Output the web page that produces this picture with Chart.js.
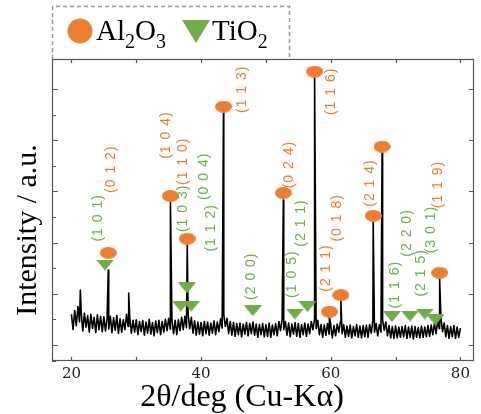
<!DOCTYPE html>
<html><head><meta charset="utf-8">
<script src="https://cdn.jsdelivr.net/npm/chart.js@4.4.1/dist/chart.umd.min.js"></script>
<style>html,body{margin:0;padding:0;background:#fff;}#wrap{width:481px;height:414px;}</style>
</head><body><div id="wrap"><canvas id="c" width="481" height="414"></canvas></div>
<script>
// ---- DATA ----
// baseline (noise) intensity, sampled every 0.25 deg from 20 to 80 deg
const scanStart = 20, scanStep = 0.25;
const intensity = [
 120,60,135,75,150,90,130,55,125,70,115,50,120,65,108,48,118,60,112,52,
 110,55,104,62,112,48,106,58,115,45,102,50,98,60,120,72,104,46,96,50,
 98,40,92,52,96,38,90,46,100,42,88,36,94,48,96,40,92,50,100,56,
 104,62,100,44,96,40,98,56,108,60,112,68,120,64,108,46,94,38,90,42,
 88,36,92,44,90,38,86,46,94,40,90,52,102,66,118,72,104,44,92,38,
 88,34,84,40,86,32,82,42,88,36,84,44,90,38,82,30,80,40,84,32,
 80,34,86,30,78,40,84,36,92,56,100,60,92,38,86,32,82,42,88,34,
 84,30,80,40,86,34,82,44,92,60,100,64,96,40,80,30,78,38,84,42,
 80,28,76,36,82,50,92,44,80,30,74,34,78,28,72,36,80,30,74,28,
 76,32,78,30,80,46,94,50,84,36,80,50,98,58,90,36,76,28,72,26,
 74,28,70,30,72,32,76,26,70,30,74,24,72,30,68,28,74,30,70,32,
 76,34,78,40,84,44,94,64,106,52,86,32,76,26,72,32,76,26,70,30,
 66
];
// sharp diffraction peaks: position (deg) and top intensity
const peakTheta     = [21.37, 25.68, 28.83, 35.27, 37.86, 43.45, 52.69, 57.51, 59.79, 61.57, 66.55, 67.92, 76.80];
const peakIntensity = [215,   293,   203,   559,   390,   906,   566,   1043,  110,   172,   480,   750,   258];
// Al2O3 markers (circles)
const al2o3Theta  = [25.68, 35.27, 37.86, 43.45, 52.69, 57.51, 59.79, 61.57, 66.55, 67.92, 76.80];
const al2o3Marker = [360,   582,   415,   931,   594,   1068,  130,   195,   505,   775,   282];
// TiO2 markers (down triangles)
const tio2Theta  = [25.18, 36.86, 37.82, 38.49, 47.97, 54.46, 56.40, 69.44, 72.23, 74.50, 76.14];
const tio2Marker = [312,   152,   223,   152,   134,   121,   150,   111,   113,   121,   98];
// Miller index labels
const al2o3Hkl      = ['(0 1 2)','(1 0 4)','(1 1 0)','(1 1 3)','(0 2 4)','(1 1 6)','(2 1 1)','(0 1 8)','(2 1 4)','(1 1 9)'];
const al2o3HklTheta = [26.05, 34.66, 37.21, 46.34, 53.61, 60.05, 59.29, 60.92, 66.14, 76.54];
const al2o3HklBase  = [594,   727,   625,   906,   612,   898,   208,   404,   540,   534];
const tio2Hkl      = ['(1 0 1)','(1 0 3)','(0 0 4)','(1 1 2)','(2 0 0)','(1 0 5)','(2 1 1)','(1 1 6)','(2 2 0)','(2 1 5)','(3 0 1)'];
const tio2HklTheta = [24.16, 37.21, 40.51, 41.52, 47.71, 54.11, 55.48, 69.95, 71.73, 74.01, 75.54];
const tio2HklBase  = [404,   441,   566,   365,   176,   184,   384,   143,   345,   189,   358];
const xTickLabels = ['20','40','60','80'];

// ---- BUILD ----
const ORANGE = '#ED7D31', GREEN = '#70AD47';
const trace = intensity.map((v,i)=>({x: scanStart + i*scanStep, y: v}));
peakTheta.forEach((t,i)=>trace.push({x:t, y:peakIntensity[i]}));
trace.sort((a,b)=>a.x-b.x);
const al2o3Pts = al2o3Theta.map((t,i)=>({x:t,y:al2o3Marker[i]}));
const tio2Pts = tio2Theta.map((t,i)=>({x:t,y:tio2Marker[i]}));

function ellipseImg(w,h,color){const c=document.createElement('canvas');c.width=w;c.height=h;const g=c.getContext('2d');g.fillStyle=color;g.beginPath();g.ellipse(w/2,h/2,w/2,h/2,0,0,Math.PI*2);g.fill();return c;}
function triImg(w,h,color){const c=document.createElement('canvas');c.width=w;c.height=h;const g=c.getContext('2d');g.fillStyle=color;g.beginPath();g.moveTo(0,0);g.lineTo(w,0);g.lineTo(w/2,h);g.closePath();g.fill();return c;}

const decor = {
  id:'decor',
  afterDatasetsDraw(chart){
    const ctx = chart.ctx, a = chart.chartArea, xs = chart.scales.x, ys = chart.scales.y;
    ctx.save();
    // frame
    ctx.strokeStyle = '#555'; ctx.lineWidth = 1.2;
    ctx.strokeRect(a.left+0.5, a.top+0.5, a.right-a.left-1, a.bottom-a.top-1);
    // inward ticks
    ctx.beginPath();
    xs.ticks.forEach(t=>{const p=Math.round(xs.getPixelForValue(t.value))+0.5;
      ctx.moveTo(p,a.bottom); ctx.lineTo(p,a.bottom-4); ctx.moveTo(p,a.top); ctx.lineTo(p,a.top+4);});
    ys.ticks.forEach(t=>{const p=Math.round(ys.getPixelForValue(t.value))+0.5; const major = t.value%200===0;
      ctx.moveTo(a.left,p); ctx.lineTo(a.left+(major?6:4),p);
      if(major){ctx.moveTo(a.right,p); ctx.lineTo(a.right-5,p);} });
    ctx.stroke();
    // hkl labels
    ctx.font = '14px "Liberation Sans"';
    if ('letterSpacing' in ctx) ctx.letterSpacing = '1px';
    ctx.textAlign = 'left'; ctx.textBaseline = 'middle';
    const lab = (txt,t,v,col)=>{ctx.save();ctx.translate(xs.getPixelForValue(t), ys.getPixelForValue(v));ctx.rotate(-Math.PI/2);ctx.fillStyle=col;ctx.fillText(txt,0,0);ctx.restore();};
    al2o3Hkl.forEach((s,i)=>lab(s,al2o3HklTheta[i],al2o3HklBase[i],ORANGE));
    tio2Hkl.forEach((s,i)=>lab(s,tio2HklTheta[i],tio2HklBase[i],GREEN));
    if ('letterSpacing' in ctx) ctx.letterSpacing = '0px';
    ctx.restore();
  },
  afterDraw(chart){
    const ctx = chart.ctx; ctx.save();
    // axis titles
    ctx.fillStyle = '#000';
    ctx.font = '32px "Liberation Serif"'; ctx.textAlign='center'; ctx.textBaseline='alphabetic';
    ctx.fillText('2θ/deg (Cu-Kα)', 242, 406);
    ctx.save(); ctx.translate(36,230); ctx.rotate(-Math.PI/2);
    ctx.font = '30px "Liberation Serif"'; ctx.fillText('Intensity / a.u.',0,0); ctx.restore();
    // legend box
    ctx.strokeStyle='#999'; ctx.lineWidth=1.5; ctx.setLineDash([4,3]);
    ctx.beginPath(); ctx.moveTo(52.5,59); ctx.lineTo(52.5,6.5); ctx.lineTo(289.5,6.5); ctx.lineTo(289.5,59); ctx.stroke();
    ctx.setLineDash([]);
    ctx.fillStyle=ORANGE; ctx.beginPath(); ctx.arc(80,31,12.5,0,Math.PI*2); ctx.fill();
    ctx.fillStyle=GREEN; ctx.beginPath(); ctx.moveTo(182,20); ctx.lineTo(210,20); ctx.lineTo(196,43); ctx.closePath(); ctx.fill();
    ctx.fillStyle='#000'; ctx.textAlign='left';
    const parts = (x, arr)=>{arr.forEach(([s,sub])=>{ctx.font = sub? '20px "Liberation Serif"':'29px "Liberation Serif"'; ctx.fillText(s,x,sub?48:40); x+=ctx.measureText(s).width;});};
    parts(96, [['Al',0],['2',1],['O',0],['3',1]]);
    parts(212, [['Ti',0],['O',0],['2',1]]);
    ctx.restore();
  }
};

new Chart(document.getElementById('c'), {
  type:'scatter',
  data:{datasets:[
    {label:'XRD', data:trace, showLine:true, borderColor:'#000', borderWidth:1.6, pointRadius:0, borderJoinStyle:'round', order:3},
    {label:'Al2O3', data:al2o3Pts, pointStyle:ellipseImg(17,12,ORANGE), pointRadius:6, order:1},
    {label:'TiO2', data:tio2Pts, pointStyle:triImg(18,11,GREEN), pointRadius:6, order:2}
  ]},
  options:{
    responsive:false, animation:false, devicePixelRatio:1,
    layout:{padding:{top:59,right:1,left:0,bottom:0}},
    plugins:{legend:{display:false}, tooltip:{enabled:false}},
    scales:{
      x:{type:'linear', min:17, max:82.1, afterFit(s){s.height=53;},
         grid:{display:false, drawTicks:false}, border:{display:false},
         ticks:{stepSize:10, includeBounds:false, autoSkip:false, maxRotation:0, padding:4,
           font:{family:'DejaVu Serif', size:15}, color:'#222',
           callback:v=>xTickLabels.includes(String(v))?String(v):''}},
      y:{type:'linear', min:-62.5, max:1117, afterFit(s){s.width=52;},
         grid:{display:false, drawTicks:false}, border:{display:false},
         ticks:{display:false, stepSize:100}}
    }
  },
  plugins:[decor]
});
</script></body></html>
